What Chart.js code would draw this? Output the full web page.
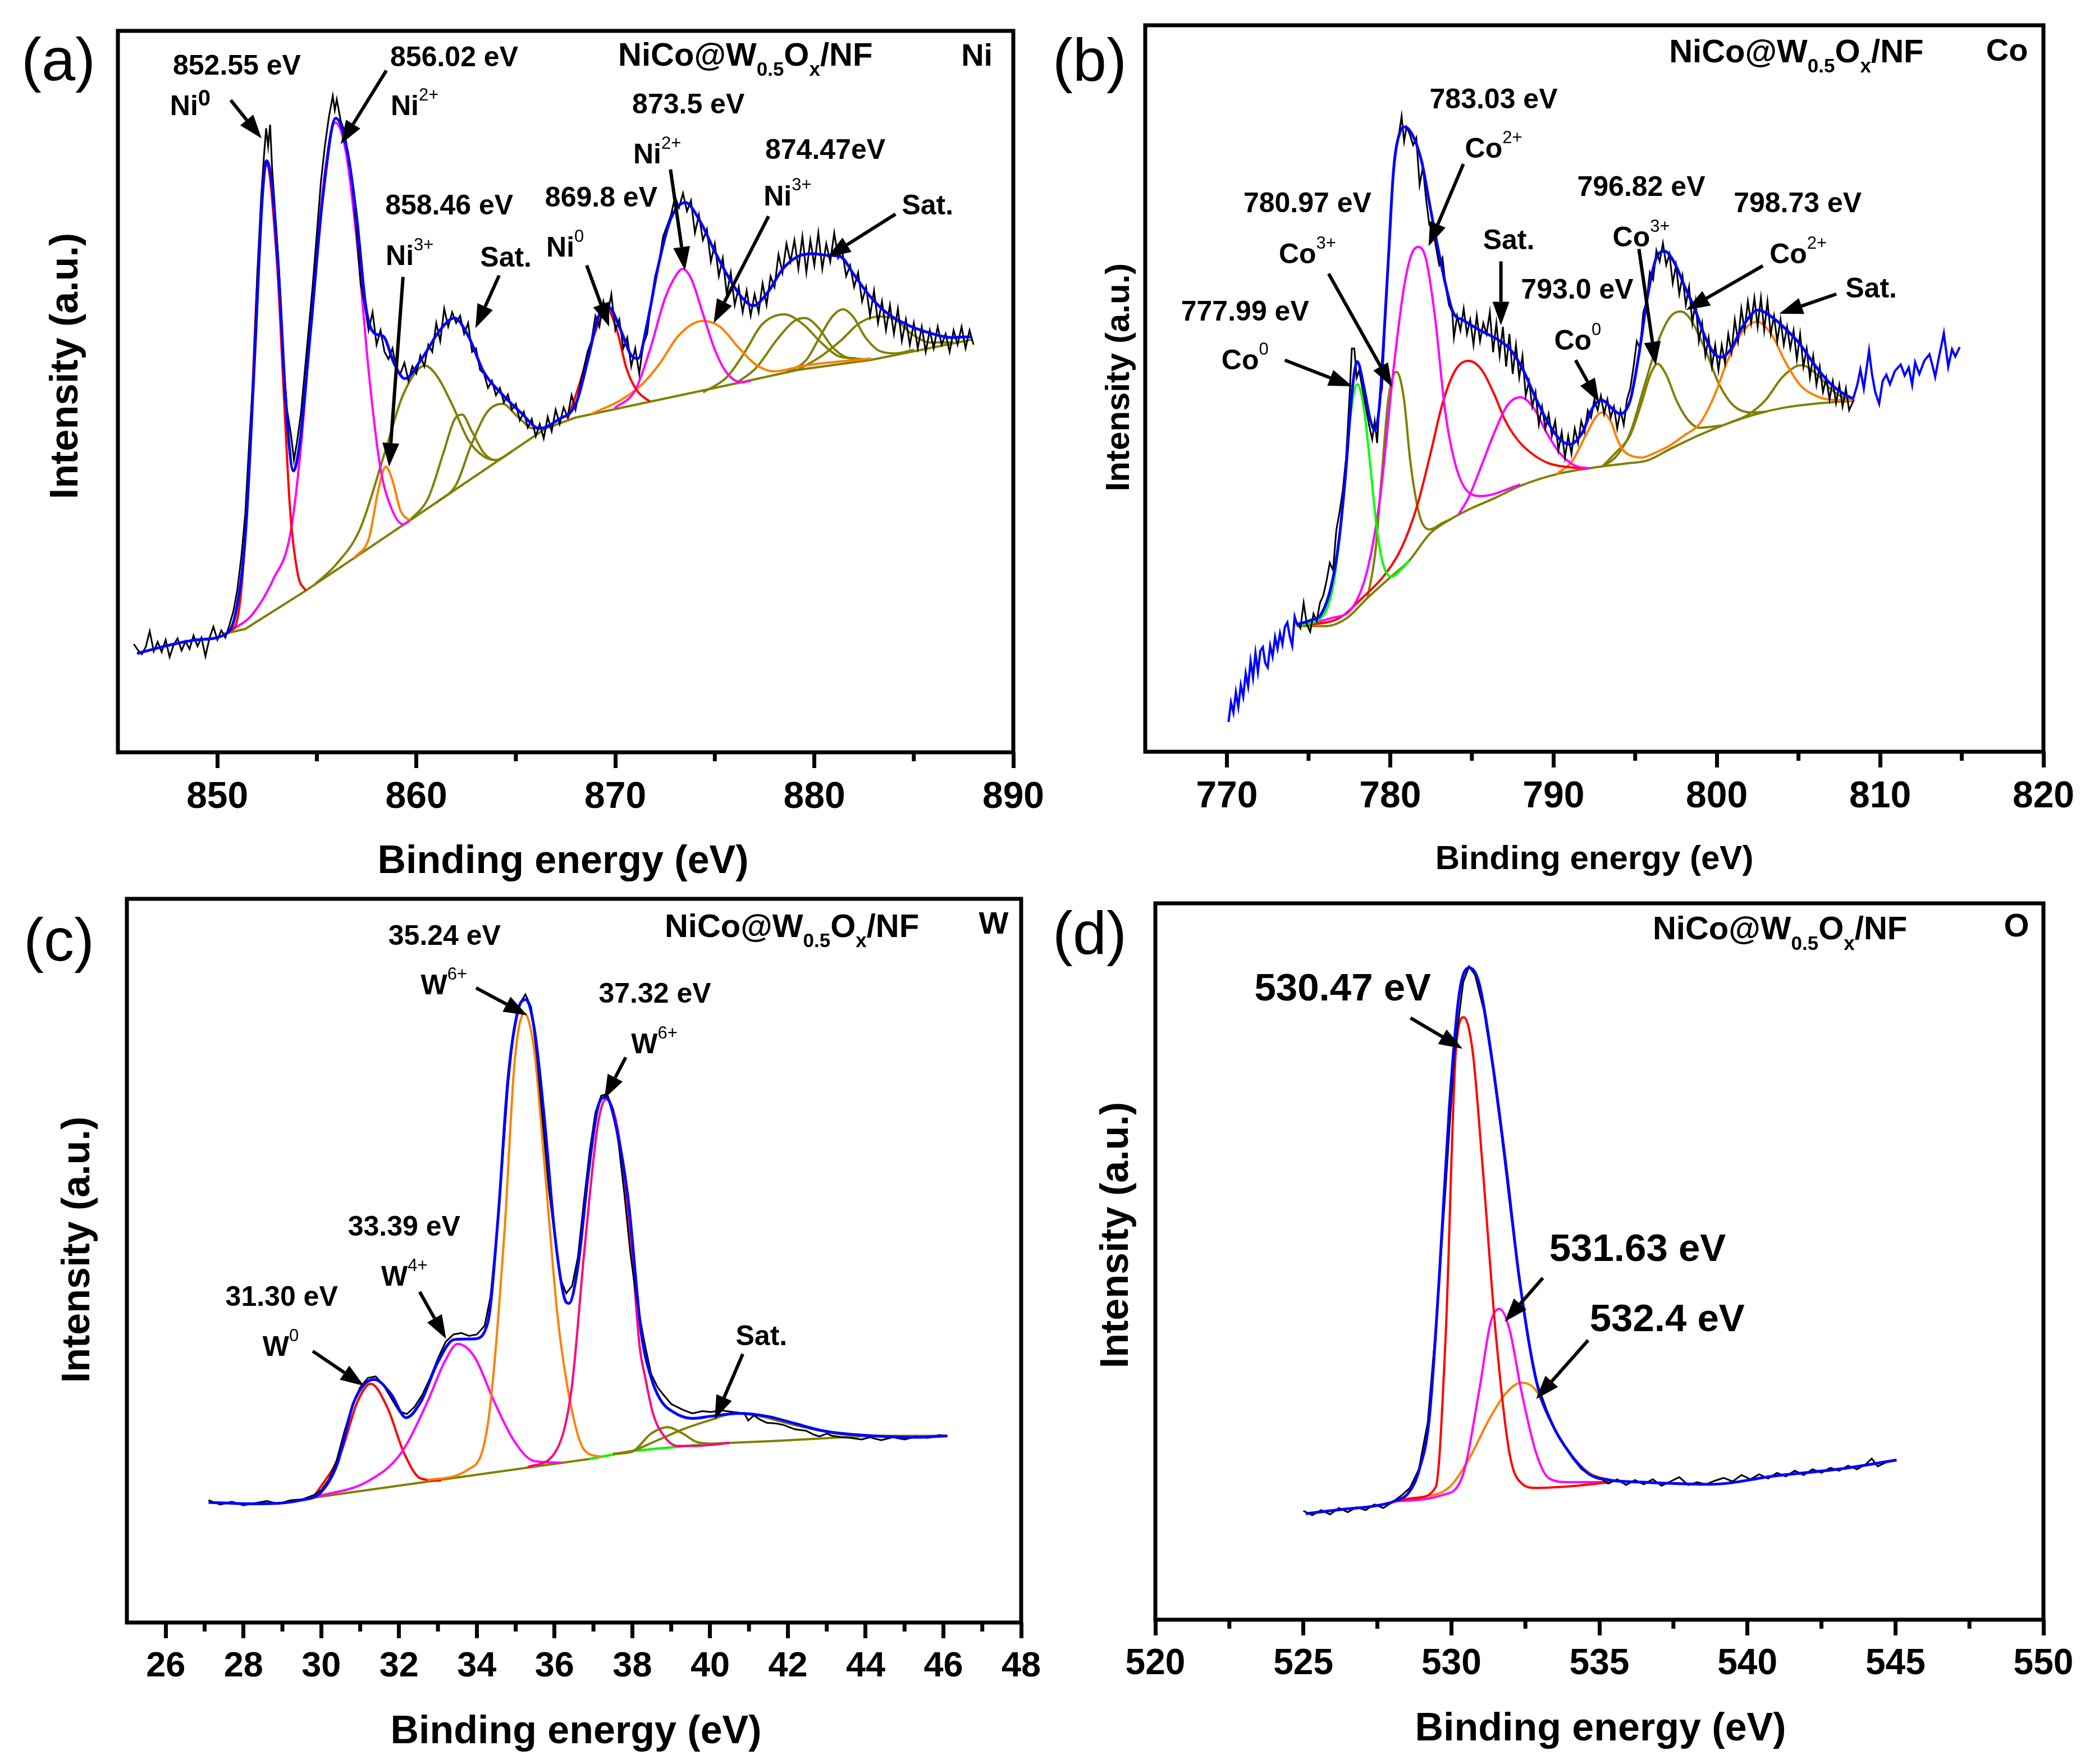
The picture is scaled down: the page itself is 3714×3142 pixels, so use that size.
<!DOCTYPE html>
<html>
<head>
<meta charset="utf-8">
<script src="https://cdn.jsdelivr.net/npm/chart.js@4.4.1/dist/chart.umd.min.js"></script>
<style>
  html, body { margin: 0; padding: 0; background: #fff; overflow: hidden; }
  #page { position: relative; width: 3714px; height: 3142px; background: #fff; }
  canvas { position: absolute; }
</style>
</head>
<body>
<div id="page">
  <canvas id="chartNi" width="1900" height="1571" style="left:0;top:0"></canvas>
  <canvas id="chartCo" width="1857" height="1571" style="left:1857px;top:0"></canvas>
  <canvas id="chartW" width="1857" height="1571" style="left:0;top:1571px"></canvas>
  <canvas id="chartO" width="1857" height="1571" style="left:1857px;top:1571px"></canvas>
</div>
<script>
// ─── Colours / fonts ─────────────────────────────────────────────────────────
const FONT = "'Liberation Sans', Arial, Helvetica, sans-serif";
const BLACK = '#000000', BLUE = '#0000ff', RED = '#ff0000', MAGENTA = '#ff00ff';
const ORANGE = '#ff8000', OLIVE = '#808000', GREEN = '#00ff00', PINK = '#ff0080';
const AXIS_H = 150;

// ─── (a) Ni 2p ───────────────────────────────────────────────────────────────
const niTicks = [850, 860, 870, 880, 890];
const niMinor = [855, 865, 875, 885];
const niRaw = [[845.8,15.0],[846.0,14.2],[846.2,13.6],[846.4,14.6],[846.6,16.8],[846.8,14.0],[847.0,15.3],[847.2,13.9],[847.4,15.6],[847.6,13.2],[847.8,14.9],[848.0,15.8],[848.2,14.1],[848.4,15.4],[848.6,14.3],[848.8,16.2],[849.0,14.7],[849.2,15.9],[849.4,13.3],[849.6,15.8],[849.8,17.4],[850.0,15.6],[850.2,16.9],[850.4,15.9],[850.6,17.6],[850.8,19.5],[851.0,22.5],[851.2,27],[851.4,33],[851.6,43],[851.8,52],[852.0,66],[852.2,77],[852.35,83],[852.45,86.5],[852.55,84],[852.65,87],[852.75,81],[852.9,75],[853.1,67],[853.3,55],[853.5,47.5],[853.7,44],[853.85,40.5],[854.0,43],[854.2,47],[854.4,53],[854.6,59],[854.8,65],[855.0,72],[855.2,79],[855.4,84],[855.6,88],[855.8,91],[855.9,89],[856.0,90.5],[856.2,87.5],[856.4,86],[856.6,82],[856.8,78],[857.0,72],[857.2,65],[857.4,62],[857.6,58.5],[857.8,61],[858.0,56.5],[858.2,58.5],[858.4,55.5],[858.6,54.5],[858.8,56],[859.0,53],[859.2,52.5],[859.4,54],[859.6,51.5],[859.8,53.5],[860.0,52.5],[860.2,55],[860.4,53.5],[860.6,56.5],[860.8,55.5],[861.0,59.5],[861.2,57],[861.4,61.5],[861.6,59],[861.8,61],[862.0,59.5],[862.2,60.5],[862.4,58],[862.6,59.5],[862.8,55.5],[863.0,56],[863.2,53],[863.4,52.5],[863.6,50.5],[863.8,51.5],[864.0,49.5],[864.2,50.5],[864.4,48.5],[864.6,49.6],[864.8,47.5],[865.0,48.3],[865.2,46.0],[865.4,47.2],[865.6,45.0],[865.8,46.2],[866.0,43.8],[866.2,45.5],[866.4,43.5],[866.6,46.5],[866.8,44.5],[867.0,47.5],[867.2,45.5],[867.4,47.8],[867.6,46.5],[867.8,49.5],[868.0,47.5],[868.2,50.5],[868.4,53],[868.6,55.5],[868.8,57],[869.0,60.5],[869.2,59],[869.4,62.5],[869.6,60.5],[869.8,63.5],[870.0,58.5],[870.2,60],[870.4,56],[870.6,57.5],[870.8,53.5],[871.0,56],[871.2,52.5],[871.4,56.5],[871.6,58],[871.8,62.5],[872.0,66],[872.2,68],[872.4,71.5],[872.6,73],[872.8,74.5],[873.0,77],[873.2,75.5],[873.4,77.5],[873.6,75],[873.8,76.5],[874.0,72],[874.2,74.5],[874.4,71],[874.6,72.5],[874.8,68],[875.0,70.5],[875.2,66],[875.4,68.5],[875.6,63.5],[875.8,66.5],[876.0,62],[876.2,64.5],[876.4,61],[876.6,64],[876.8,60.5],[877.0,63.5],[877.2,61],[877.4,65],[877.6,62],[877.8,66],[878.0,64.5],[878.2,69],[878.4,66.5],[878.6,70.5],[878.8,68],[879.0,71],[879.2,67],[879.4,71.5],[879.6,66.5],[879.8,71],[880.0,67.5],[880.2,72],[880.4,67],[880.6,70.5],[880.8,68],[881.0,72],[881.2,68.5],[881.4,69.5],[881.6,66],[881.8,67.5],[882.0,64.5],[882.2,66.5],[882.4,62.5],[882.6,64.5],[882.8,60.5],[883.0,64],[883.2,59.5],[883.4,62.5],[883.6,58.5],[883.8,62],[884.0,58],[884.2,61.5],[884.4,57],[884.6,60],[884.8,56.5],[885.0,59.5],[885.2,56],[885.4,59],[885.6,55.5],[885.8,58.5],[886.0,56],[886.2,59],[886.4,56.5],[886.6,58],[886.8,55.5],[887.0,58.5],[887.2,56.5],[887.4,59],[887.6,56],[887.8,58.5],[888.0,56.5]];
const niEnvelope = [[845.96,13.7],[847.5,14.8],[849.0,15.6],[850.48,16.5],[850.94,19.6],[851.41,30.2],[851.88,55.2],[852.26,77.0],[852.47,82.0],[852.73,78.9],[853.12,64.5],[853.43,49.0],[853.82,39.0],[854.13,42.7],[854.68,58.3],[855.3,77.0],[855.95,87.9],[856.54,83.2],[857.01,73.9],[857.48,61.4],[857.94,58.0],[858.33,57.7],[858.88,53.9],[859.42,51.8],[860.28,54.6],[861.21,58.6],[861.91,60.2],[862.61,57.7],[863.39,52.7],[864.32,49.6],[865.25,47.1],[866.19,44.9],[867.12,46.1],[868.03,48.4],[868.62,54.4],[869.14,60.3],[869.66,61.7],[870.26,58.6],[870.78,55.1],[871.15,54.6],[871.59,59.3],[872.18,67.7],[872.78,73.9],[873.52,76.2],[874.26,73.6],[875.0,69.4],[875.74,65.6],[876.34,63.1],[876.93,61.9],[877.67,63.8],[878.41,67.0],[879.15,68.7],[879.9,69.1],[880.64,68.9],[881.31,68.7],[881.97,66.3],[882.71,63.5],[883.6,61.0],[884.64,59.3],[885.83,58.1],[886.87,57.5],[887.91,57.6]];
const niBackground = [[850.3,16.4],[851.4,17.1],[854.44,22.4],[859.65,32.1],[866.5,44.9],[868.0,46.4],[871.74,48.6],[876.19,51.2],[879.15,53.0],[882.86,54.4],[887.91,57.2]];
const niRed1 = [[850.6,16.8],[850.94,17.8],[851.25,24.0],[851.64,42.7],[852.03,66.4],[852.47,81.4],[853.0,67.7],[853.35,49.0],[853.66,33.4],[854.05,24.6],[854.44,22.4]];
const niMag1 = [[850.63,16.8],[851.72,19.0],[852.81,24.0],[853.66,30.2],[854.21,42.7],[854.83,64.5],[855.45,81.4],[855.92,87.3],[856.46,83.2],[857.01,70.8],[857.63,52.1],[858.18,39.6],[858.72,34.0],[859.34,31.6],[859.65,32.1]];
const niOrange1 = [[856.85,26.9],[857.63,29.8],[858.1,36.5],[858.46,39.6],[858.8,37.7],[859.19,33.6],[859.65,32.1]];
const niSat1 = [[854.9,23.3],[855.92,25.9],[857.16,30.9],[858.41,41.5],[859.34,49.6],[860.43,53.6],[861.05,52.1],[861.83,48.0],[862.61,43.3],[863.39,41.0],[864.0,40.5],[864.8,41.7]];
const niSat2 = [[859.65,32.1],[860.59,35.2],[861.36,41.5],[861.91,46.1],[862.3,46.8],[862.77,44.6],[863.39,41.5],[864.0,40.5],[864.8,41.7]];
const niSat3 = [[861.0,34.6],[862.0,37.1],[862.77,42.7],[863.54,47.1],[864.32,48.3],[865.1,46.5],[865.88,44.9],[866.5,44.9]];
const niRed2 = [[867.6,46.2],[868.18,50.9],[868.77,56.5],[869.29,60.3],[869.59,61.4],[870.11,58.2],[870.55,53.3],[871.07,50.2],[871.74,48.6]];
const niMag2 = [[869.96,47.7],[871.0,50.2],[871.74,55.8],[872.48,62.8],[873.0,65.9],[873.37,67.0],[873.82,65.6],[874.41,60.7],[875.0,55.8],[875.6,52.6],[876.34,51.3],[876.8,51.5]];
const niOrange2 = [[868.77,46.9],[870.26,48.8],[871.3,50.9],[872.18,53.7],[873.22,57.9],[874.41,59.8],[875.3,58.9],[876.19,56.1],[877.08,53.7],[877.97,52.8],[879.5,53.6],[882.86,54.6]];
const niSatA = [[874.41,49.9],[875.6,52.0],[876.49,55.4],[877.37,59.3],[878.49,60.7],[879.45,59.3],[880.34,56.8],[881.23,54.9],[882.12,54.6]];
const niSatB = [[876.04,51.1],[877.08,53.3],[878.12,57.2],[879.0,59.8],[879.53,60.2],[880.19,58.9],[880.93,56.1],[881.68,54.7],[882.5,54.5]];
const niSatC = [[878.56,52.6],[879.6,54.4],[880.34,57.9],[880.93,60.5],[881.45,61.4],[881.97,60.3],[882.57,57.5],[883.3,55.6],[884.05,55.3],[885.0,55.8]];
const niSatD = [[879.15,53.0],[880.34,54.9],[881.38,57.2],[882.27,59.5],[883.3,60.4],[884.05,60.0],[884.94,57.9],[885.83,56.8],[887.0,56.8]];

// ─── (b) Co 2p ───────────────────────────────────────────────────────────────
const coTicks = [770, 780, 790, 800, 810, 820];
const coMinor = [775, 785, 795, 805, 815];
const coTailLeft = [[770.1,4.1],[770.25,6.8],[770.4,5.4],[770.55,8.2],[770.7,6.2],[770.85,9.2],[771.0,7.6],[771.15,10.8],[771.3,9.0],[771.45,12.5],[771.6,10.2],[771.75,13.6],[771.9,11.0],[772.05,13.9],[772.2,14.4],[772.35,12.2],[772.5,11.6],[772.65,14.6],[772.8,13.1],[772.95,15.8],[773.1,14.2],[773.25,16.3],[773.4,14.8],[773.55,17.2],[773.7,17.8],[773.85,15.9],[774.0,14.6],[774.15,18.6],[774.3,17.5]];
const coTailRight = [[808.35,48.6],[808.6,50.5],[808.79,52.6],[809.0,50.0],[809.32,55.2],[809.5,52.0],[809.7,49.5],[809.94,47.9],[810.15,51.0],[810.38,51.9],[810.6,50.6],[810.9,52.4],[811.26,53.3],[811.5,51.8],[811.75,52.9],[811.96,50.5],[812.14,53.6],[812.4,52.0],[812.7,53.8],[813.02,54.7],[813.2,53.2],[813.37,51.6],[813.6,54.3],[813.9,57.6],[814.17,53.0],[814.4,55.4],[814.6,54.4],[814.87,55.7]];
const coRaw = [[774.3,17.8],[774.5,17.0],[774.7,20.5],[774.9,17.5],[775.1,16.5],[775.3,19.0],[775.5,18.0],[775.7,20.5],[775.9,21.5],[776.1,23.5],[776.3,26.0],[776.5,25.0],[776.7,30.5],[776.9,33.0],[777.1,36.0],[777.3,40.5],[777.5,48.5],[777.65,55.5],[777.8,55.5],[777.95,51.5],[778.1,52.5],[778.3,50.0],[778.5,47.5],[778.7,45.0],[778.9,43.0],[779.05,45.5],[779.2,42.5],[779.35,48.5],[779.5,50.0],[779.7,60.0],[779.9,68.5],[780.1,77.0],[780.3,82.0],[780.5,84.5],[780.7,87.5],[780.85,84.0],[781.0,86.0],[781.2,85.0],[781.4,83.5],[781.6,84.5],[781.8,78.0],[782.0,80.5],[782.2,76.0],[782.4,72.5],[782.6,72.0],[782.8,69.5],[783.0,67.0],[783.2,68.0],[783.4,64.0],[783.6,61.5],[783.8,60.5],[783.9,57.0],[784.1,60.0],[784.3,58.0],[784.5,61.0],[784.7,57.5],[784.9,59.5],[785.1,56.0],[785.3,60.0],[785.5,56.5],[785.7,59.0],[785.9,57.5],[786.1,60.5],[786.3,55.0],[786.5,59.0],[786.7,54.5],[786.9,58.5],[787.1,53.0],[787.3,57.5],[787.5,52.0],[787.7,56.0],[787.9,51.5],[788.1,54.5],[788.3,49.0],[788.5,51.0],[788.7,47.5],[788.9,49.5],[789.1,45.0],[789.3,47.5],[789.5,44.5],[789.7,46.5],[789.9,43.5],[790.1,45.5],[790.3,41.5],[790.5,44.0],[790.7,40.5],[790.9,43.5],[791.1,41.0],[791.3,44.5],[791.5,42.5],[791.7,45.5],[791.9,44.0],[792.1,47.0],[792.3,46.0],[792.5,48.5],[792.7,47.0],[792.9,49.0],[793.1,46.5],[793.3,48.5],[793.5,46.0],[793.7,47.5],[793.9,44.5],[794.1,47.0],[794.3,45.0],[794.5,48.5],[794.7,50.0],[794.9,53.0],[795.1,56.5],[795.3,55.5],[795.5,60.5],[795.7,62.0],[795.9,66.0],[796.1,65.0],[796.3,69.0],[796.5,67.5],[796.7,70.0],[796.9,67.0],[797.1,68.5],[797.3,64.5],[797.5,67.0],[797.7,63.0],[797.9,65.5],[798.1,61.5],[798.3,64.0],[798.5,59.0],[798.7,62.0],[798.9,56.5],[799.1,59.0],[799.3,54.5],[799.5,57.0],[799.7,53.0],[799.9,56.0],[800.1,52.5],[800.3,56.0],[800.5,53.5],[800.7,57.5],[800.9,55.0],[801.1,59.5],[801.3,56.5],[801.5,61.0],[801.7,58.0],[801.9,62.0],[802.1,59.0],[802.3,62.5],[802.5,58.5],[802.7,62.5],[802.9,58.0],[803.1,62.0],[803.3,57.5],[803.5,60.0],[803.7,56.5],[803.9,59.5],[804.1,56.0],[804.3,58.5],[804.5,55.5],[804.7,58.0],[804.9,54.0],[805.1,57.5],[805.3,53.0],[805.5,55.5],[805.7,51.5],[805.9,54.5],[806.1,50.5],[806.3,53.0],[806.5,49.5],[806.7,51.5],[806.9,48.5],[807.1,51.0],[807.3,48.0],[807.5,50.5],[807.7,47.5],[807.9,50.0],[808.1,47.0],[808.4,48.5]];
const coEnvelope = [[774.26,17.5],[775.13,18.1],[775.76,18.9],[776.4,22.9],[776.87,29.2],[777.27,38.3],[777.67,49.7],[777.98,53.7],[778.38,50.3],[778.78,45.7],[779.06,44.3],[779.33,47.4],[779.57,55.4],[779.89,67.9],[780.2,79.9],[780.6,85.3],[780.92,86.0],[781.47,84.4],[781.95,81.0],[782.42,75.3],[782.9,69.6],[783.37,64.5],[783.85,60.5],[784.48,59.4],[785.59,57.9],[786.54,56.8],[787.34,55.4],[788.13,52.6],[788.92,48.6],[789.72,45.1],[790.35,43.1],[790.98,42.3],[791.78,44.0],[792.41,47.4],[792.97,48.4],[793.52,47.4],[794.08,46.5],[794.7,48.4],[795.23,54.7],[795.76,62.7],[796.28,67.9],[796.81,68.9],[797.43,67.2],[798.04,64.0],[798.66,60.9],[799.28,57.1],[799.81,54.9],[800.25,54.3],[800.86,55.4],[801.57,58.5],[802.54,60.8],[803.33,59.9],[804.21,58.2],[805.09,56.1],[805.97,53.3],[806.85,50.9],[807.73,49.3],[808.35,48.6]];
const coBackground = [[774.26,17.3],[776.08,17.3],[777.35,18.4],[778.62,21.2],[780.05,24.1],[781.16,26.3],[782.42,30.0],[783.69,32.0],[784.96,33.5],[786.39,34.9],[787.97,36.6],[790.35,38.3],[792.73,39.2],[794.52,39.7],[795.76,40.1],[797.16,41.7],[798.93,43.6],[800.69,45.2],[802.45,46.5],[804.21,47.4],[805.97,47.9],[808.35,48.3]];
const coGreen = [[774.26,17.4],[775.76,18.4],[776.56,23.5],[777.03,32.6],[777.51,45.1],[777.98,50.6],[778.38,47.4],[778.78,39.4],[779.17,30.9],[779.57,25.8],[780.05,24.1],[780.84,25.5],[781.16,26.3]];
const coOlive1 = [[778.62,21.2],[779.09,27.5],[779.49,38.3],[779.89,48.6],[780.39,52.3],[780.84,48.6],[781.23,40.0],[781.79,32.6],[782.42,30.6],[783.21,31.5],[783.69,32.0]];
const coMag1 = [[774.5,17.4],[776.4,18.4],[777.67,19.8],[778.62,25.2],[779.41,35.5],[780.2,52.6],[780.84,63.9],[781.31,68.5],[781.71,69.5],[782.18,67.9],[782.74,59.9],[783.37,46.8],[784.01,39.4],[784.8,35.7],[785.59,35.2],[787.97,36.8]];
const coRed = [[774.5,17.4],[776.87,18.4],[778.3,21.2],[779.57,24.1],[780.68,28.0],[781.63,33.7],[782.42,40.6],[783.21,48.0],[784.01,52.6],[784.8,53.8],[785.59,52.6],[786.39,49.1],[787.02,45.7],[787.81,42.9],[788.76,40.9],[789.72,39.7],[790.83,39.2],[792.0,39.0]];
const coMag2 = [[784.2,32.7],[784.8,35.0],[785.59,39.4],[786.39,44.0],[787.18,47.7],[787.97,48.8],[788.76,47.4],[789.56,44.0],[790.35,41.2],[791.3,39.4],[792.25,39.0]];
const coOrange1 = [[790.19,38.2],[791.14,40.0],[791.94,43.4],[792.57,46.0],[792.97,46.7],[793.52,45.4],[793.82,43.5],[794.16,41.8],[794.52,41.0],[795.4,40.5],[796.28,41.2]];
const coOrange2 = [[796.28,41.2],[797.16,42.2],[798.04,43.6],[798.93,45.1],[799.81,48.8],[800.69,54.0],[801.57,57.8],[802.45,59.2],[803.33,57.5],[804.21,53.6],[805.09,50.5],[805.97,49.1],[806.85,48.5],[808.35,48.4]];
const coOlive2 = [[793.0,39.3],[793.82,41.2],[794.7,43.6],[795.4,48.1],[795.93,51.9],[796.37,53.4],[796.9,51.9],[797.52,48.4],[798.22,45.7],[798.93,44.6],[800.3,44.9]];
const coOlive3 = [[793.0,39.3],[793.82,40.6],[794.7,43.9],[795.58,50.5],[796.46,56.8],[797.16,59.9],[797.78,60.6],[798.4,59.5],[799.28,55.4],[800.16,50.5],[801.04,47.6],[802.1,46.7],[803.0,46.8]];
const coOlive4 = [[800.69,45.2],[801.92,46.4],[802.98,48.4],[804.03,51.6],[805.18,53.2],[806.15,51.9],[807.03,49.8],[807.91,48.6],[808.35,48.4]];

// ─── (c) W 4f ────────────────────────────────────────────────────────────────
const wTicks = [26, 28, 30, 32, 34, 36, 38, 40, 42, 44, 46, 48];
const wMinor = [27, 29, 31, 33, 35, 37, 39, 41, 43, 45, 47];
const wRaw = [[27.1,16.9],[27.4,16.3],[27.7,16.7],[28.0,16.2],[28.3,16.5],[28.6,16.8],[28.9,16.4],[29.2,16.9],[29.5,17.0],[29.8,17.6],[30.0,18.3],[30.2,19.8],[30.4,22.5],[30.6,26.5],[30.8,30.0],[31.0,32.5],[31.2,33.8],[31.4,34.0],[31.6,32.8],[31.8,31.0],[32.0,29.2],[32.2,28.8],[32.4,29.8],[32.6,31.5],[32.8,33.8],[33.0,36.5],[33.2,38.8],[33.4,39.8],[33.6,40.0],[33.8,39.6],[34.0,39.8],[34.2,41.0],[34.35,45],[34.5,53],[34.65,63],[34.8,74],[34.95,82],[35.1,85.5],[35.25,86.8],[35.4,85.0],[35.55,78],[35.7,69],[35.85,60],[36.0,53.5],[36.15,47.5],[36.3,45.5],[36.45,46.5],[36.6,50.5],[36.75,58],[36.9,65],[37.05,70.5],[37.2,72.8],[37.35,73.0],[37.5,71.0],[37.65,66],[37.8,59],[37.95,51],[38.1,45.0],[38.3,39.0],[38.48,34.4],[38.65,32.5],[38.81,31.4],[39.0,30.2],[39.3,29.4],[39.54,28.9],[39.8,29.2],[40.02,29.1],[40.3,29.3],[40.59,29.1],[40.88,28.9],[40.98,27.9],[41.12,28.6],[41.3,28.0],[41.46,27.6],[41.7,27.5],[41.89,27.3],[42.18,26.7],[42.47,26.5],[42.65,26.0],[42.81,25.7],[43.0,26.1],[43.14,25.8],[43.4,25.6],[43.62,25.5],[43.9,25.3],[44.1,25.6],[44.4,25.2],[44.7,25.6],[45.0,25.3],[45.3,25.7],[45.6,25.5],[45.9,25.9],[46.1,25.7]];
const wEnvelope = [[27.1,16.6],[28.27,16.4],[29.47,16.9],[29.99,18.0],[30.41,21.9],[30.84,30.5],[31.36,33.6],[31.79,31.6],[32.18,28.3],[32.56,30.5],[32.99,35.9],[33.42,39.1],[33.94,39.2],[34.28,41.4],[34.54,55.5],[34.8,75.0],[35.05,84.4],[35.26,86.1],[35.48,82.0],[35.74,69.5],[36.0,53.9],[36.25,44.9],[36.37,44.1],[36.6,49.2],[36.86,61.7],[37.11,71.1],[37.32,72.6],[37.54,69.5],[37.89,58.6],[38.23,40.0],[38.48,33.9],[38.72,30.8],[39.05,29.1],[39.54,28.2],[40.02,28.5],[40.74,28.9],[41.46,28.5],[42.18,27.5],[42.9,26.5],[43.62,26.0],[44.5,25.7],[45.3,25.6],[46.1,25.8]];
const wBackground = [[29.6,17.1],[36.89,22.6],[37.99,23.7],[40.02,24.7],[41.7,25.1],[44.1,25.8],[46.1,25.8]];
const wGreen = [[36.89,22.6],[37.99,23.7],[40.02,24.7]];
const wRed = [[29.8,17.3],[30.5,23.4],[30.93,30.5],[31.27,33.0],[31.7,29.7],[32.13,23.4],[32.56,19.9],[33.08,19.6]];
const wMag = [[29.8,17.3],[31.19,19.5],[32.05,23.4],[32.73,30.5],[33.16,35.9],[33.51,38.5],[33.94,36.7],[34.45,30.5],[34.97,25.0],[35.48,22.3],[36.17,22.1]];
const wOrange = [[32.73,19.7],[33.76,21.1],[34.28,27.3],[34.71,53.9],[34.97,77.3],[35.22,84.2],[35.48,78.9],[35.74,63.3],[36.08,42.2],[36.43,29.7],[36.77,23.8],[37.2,22.9]];
const wPink = [[35.31,21.5],[36.0,23.4],[36.43,32.0],[36.77,51.6],[37.11,68.7],[37.32,72.3],[37.63,68.0],[37.97,52.3],[38.19,38.0],[38.33,33.9],[38.53,28.9],[38.81,25.8],[39.15,24.4],[39.54,24.4],[40.5,24.8]];
const wOliveSmall = [[37.5,23.3],[37.99,23.6],[38.48,26.1],[38.91,27.0],[39.3,26.1],[39.63,25.0],[40.02,24.7]];
const wOliveBroad = [[37.5,23.3],[37.99,23.7],[38.57,25.0],[39.3,26.7],[40.02,28.0],[40.64,28.9],[41.22,28.6],[41.94,27.6],[42.66,26.7],[43.38,26.0],[44.1,25.8]];

// ─── (d) O 1s ────────────────────────────────────────────────────────────────
const oTicks = [520, 525, 530, 535, 540, 545, 550];
const oMinor = [522.5, 527.5, 532.5, 537.5, 542.5, 547.5];
const oRaw = [[525.0,15.2],[525.3,14.6],[525.6,15.3],[525.9,14.7],[526.2,15.6],[526.5,15.0],[526.8,15.7],[527.1,15.3],[527.4,16.1],[527.7,15.6],[528.0,16.4],[528.3,17.3],[528.6,18.4],[528.9,21.0],[529.2,27.5],[529.5,42],[529.8,60],[530.1,79],[530.4,89],[530.6,91.2],[530.8,90],[531.1,85],[531.4,77],[531.7,67.5],[532.0,57],[532.3,47.5],[532.6,39],[532.9,33],[533.2,29.5],[533.5,26.5],[533.8,24.5],[534.1,22.5],[534.4,21],[534.7,20.2],[535.0,19.8],[535.3,19.0],[535.6,19.6],[535.9,18.8],[536.2,19.5],[536.5,18.9],[536.8,19.6],[537.1,18.7],[537.4,19.3],[537.7,19.9],[538.0,18.8],[538.3,19.2],[538.6,18.9],[538.9,19.4],[539.2,19.8],[539.5,19.3],[539.8,20.2],[540.1,19.6],[540.4,20.3],[540.7,19.7],[541.0,20.5],[541.3,20.0],[541.6,20.8],[541.9,20.2],[542.2,21.0],[542.5,20.5],[542.8,21.2],[543.1,20.8],[543.4,21.5],[543.7,21.0],[544.0,21.7],[544.2,22.5],[544.4,21.4],[544.7,22.0],[545.0,22.2]];
const oEnvelope = [[525.08,14.8],[526.32,15.4],[527.44,15.9],[528.12,16.6],[528.57,17.8],[528.91,20.9],[529.25,28.0],[529.59,47.8],[529.93,71.4],[530.26,87.2],[530.6,91.0],[530.94,88.8],[531.39,77.7],[531.84,63.5],[532.29,47.8],[532.86,33.5],[533.42,27.2],[533.99,23.3],[534.66,20.3],[535.34,19.5],[536.47,19.2],[538.72,18.9],[540.98,20.1],[543.24,21.1],[545.04,22.3]];
const oRed = [[528.0,16.5],[528.8,17.0],[529.47,18.5],[529.81,39.9],[530.15,79.3],[530.42,84.1],[530.72,79.3],[531.05,63.5],[531.5,39.9],[531.96,23.3],[532.41,18.9],[532.86,18.4],[534.21,18.7],[535.34,19.2]];
const oMag = [[528.0,16.5],[529.7,17.4],[530.38,20.1],[530.94,32.0],[531.32,41.4],[531.62,43.4],[531.96,40.6],[532.36,32.0],[532.86,23.3],[533.31,19.7],[533.99,19.2],[535.34,19.2]];
const oOrange = [[528.0,16.5],[528.8,17.0],[529.93,18.5],[530.6,22.5],[531.28,28.0],[531.84,31.6],[532.36,33.1],[532.86,32.0],[533.31,28.0],[533.99,23.3],[534.66,20.5],[535.34,19.5]];

// ─── Helpers ─────────────────────────────────────────────────────────────────
function line(points, color, width, smooth) {
  return {
    data: points.map(([x, y]) => ({ x, y })),
    borderColor: color,
    borderWidth: width,
    pointRadius: 0,
    fill: false,
    tension: 0,
    cubicInterpolationMode: smooth ? 'monotone' : 'default'
  };
}

// draws text made of base / superscript / subscript runs
function drawRich(ctx, parts, x, y, size, align) {
  const runs = parts.map(([t, k]) => {
    let font = `bold ${size}px ${FONT}`, dy = 0;
    if (k === 'sup')  { font = `${Math.round(size * 0.62)}px ${FONT}`; dy = -size * 0.42; }
    if (k === 'supB') { font = `bold ${Math.round(size * 0.8)}px ${FONT}`; dy = -size * 0.28; }
    if (k === 'sub')  { font = `bold ${Math.round(size * 0.6)}px ${FONT}`; dy = size * 0.42; }
    ctx.font = font;
    return { t, font, dy, w: ctx.measureText(t).width };
  });
  const total = runs.reduce((s, r) => s + r.w, 0);
  let cx = align === 'center' ? x - total / 2 : x;
  ctx.textAlign = 'left';
  ctx.textBaseline = 'middle';
  runs.forEach(r => { ctx.font = r.font; ctx.fillText(r.t, cx, y + r.dy); cx += r.w; });
}

function drawArrow(ctx, x1, y1, x2, y2) {
  const a = Math.atan2(y2 - y1, x2 - x1), head = 42, half = 15;
  const bx = x2 - head * Math.cos(a), by = y2 - head * Math.sin(a);
  ctx.lineWidth = 6;
  ctx.beginPath(); ctx.moveTo(x1, y1); ctx.lineTo(bx, by); ctx.stroke();
  ctx.beginPath();
  ctx.moveTo(x2, y2);
  ctx.lineTo(bx + half * Math.sin(a), by - half * Math.cos(a));
  ctx.lineTo(bx - half * Math.sin(a), by + half * Math.cos(a));
  ctx.closePath(); ctx.fill();
}

// frame, minor ticks, titles, panel letter and annotations
function makeDecor(cfg) {
  return {
    id: 'decor',
    afterDraw(chart) {
      const ctx = chart.ctx;
      const { left, top, right, bottom } = chart.chartArea;
      const xs = chart.scales.x, ys = chart.scales.y;
      const [ox, oy] = cfg.origin;
      ctx.save();
      ctx.strokeStyle = BLACK; ctx.fillStyle = BLACK;
      ctx.lineWidth = 7;
      ctx.strokeRect(left, top, right - left, bottom - top);
      cfg.minor.forEach(v => {
        const px = xs.getPixelForValue(v);
        ctx.beginPath(); ctx.moveTo(px, bottom); ctx.lineTo(px, bottom + 16); ctx.stroke();
      });
      ctx.textAlign = 'center'; ctx.textBaseline = 'middle';
      ctx.font = `bold ${cfg.titleSize}px ${FONT}`;
      ctx.fillText('Binding energy (eV)', cfg.xTitle[0] - ox, cfg.xTitle[1] - oy);
      ctx.save();
      ctx.translate(cfg.yTitle[0] - ox, cfg.yTitle[1] - oy);
      ctx.rotate(-Math.PI / 2);
      ctx.fillText('Intensity (a.u.)', 0, 0);
      ctx.restore();
      ctx.textAlign = 'left';
      ctx.font = `108px ${FONT}`;
      ctx.fillText(cfg.letter, cfg.letterPos[0] - ox, cfg.letterPos[1] - oy);
      cfg.labels.forEach(l => drawRich(ctx, l.parts, xs.getPixelForValue(l.x), ys.getPixelForValue(l.y),
        l.size || cfg.labelSize, l.align || 'center'));
      cfg.arrows.forEach(([x1, y1, x2, y2]) => drawArrow(ctx,
        xs.getPixelForValue(x1), ys.getPixelForValue(y1), xs.getPixelForValue(x2), ys.getPixelForValue(y2)));
      ctx.restore();
    }
  };
}

function makeChart(id, cfg) {
  return new Chart(document.getElementById(id), {
    type: 'line',
    data: { datasets: cfg.series.slice().reverse() },   // first in list = drawn first (bottom)
    options: {
      responsive: false,
      animation: false,
      devicePixelRatio: 1,
      events: [],
      layout: { padding: cfg.pad },
      plugins: { legend: { display: false }, tooltip: { enabled: false } },
      scales: {
        x: {
          type: 'linear',
          min: cfg.range[0], max: cfg.range[1],
          afterBuildTicks(scale) { scale.ticks = cfg.ticks.map(v => ({ value: v })); },
          afterFit(scale) { scale.height = AXIS_H; scale.paddingLeft = 0; scale.paddingRight = 0; },
          ticks: {
            autoSkip: false, maxRotation: 0, minRotation: 0, padding: 13, color: BLACK,
            font: { family: FONT, size: cfg.tickSize, weight: 'bold' },
            callback: v => String(v)
          },
          grid: { display: true, drawOnChartArea: false, drawTicks: true, tickLength: 28,
                  tickWidth: 7, tickColor: BLACK, lineWidth: 7, color: BLACK },
          border: { display: false }
        },
        y: { min: 0, max: 100, display: false }
      }
    },
    plugins: [makeDecor(cfg)]
  });
}

const sampleTitle = [['NiCo@W', 'b'], ['0.5', 'sub'], ['O', 'b'], ['x', 'sub'], ['/NF', 'b']];

// ─── (a) ─────────────────────────────────────────────────────────────────────
makeChart('chartNi', {
  origin: [0, 0], pad: { left: 210, top: 55, right: 95, bottom: 81 },
  range: [845, 890], ticks: niTicks, minor: niMinor, tickSize: 66, titleSize: 70,
  xTitle: [1003, 1536], yTitle: [119, 652], letter: '(a)', letterPos: [38, 113], labelSize: 50,
  series: [
    line(niBackground, OLIVE, 4, false),
    line(niSat1, OLIVE, 4, true), line(niSat2, OLIVE, 4, true), line(niSat3, OLIVE, 4, true),
    line(niSatA, OLIVE, 4, true), line(niSatB, OLIVE, 4, true), line(niSatC, OLIVE, 4, true), line(niSatD, OLIVE, 4, true),
    line(niOrange1, ORANGE, 4, true), line(niOrange2, ORANGE, 4, true),
    line(niMag1, MAGENTA, 4, true), line(niMag2, MAGENTA, 4, true),
    line(niRed1, RED, 4, true), line(niRed2, RED, 4, true),
    line(niRaw, BLACK, 3, false),
    line(niEnvelope, BLUE, 5, true)
  ],
  labels: [
    { x: 850.98, y: 95.0, parts: [['852.55 eV', 'b']] },
    { x: 847.62, y: 89.4, parts: [['Ni', 'b'], ['0', 'supB']], align: 'left' },
    { x: 861.9, y: 96.2, parts: [['856.02 eV', 'b']] },
    { x: 858.71, y: 89.4, parts: [['Ni', 'b'], ['2+', 'sup']], align: 'left' },
    { x: 861.65, y: 75.6, parts: [['858.46 eV', 'b']] },
    { x: 858.46, y: 68.6, parts: [['Ni', 'b'], ['3+', 'sup']], align: 'left' },
    { x: 864.5, y: 68.4, parts: [['Sat.', 'b']] },
    { x: 869.29, y: 76.7, parts: [['869.8 eV', 'b']] },
    { x: 866.53, y: 69.8, parts: [['Ni', 'b'], ['0', 'sup']], align: 'left' },
    { x: 873.67, y: 89.6, parts: [['873.5 eV', 'b']] },
    { x: 870.9, y: 82.7, parts: [['Ni', 'b'], ['2+', 'sup']], align: 'left' },
    { x: 880.55, y: 83.3, parts: [['874.47eV', 'b']] },
    { x: 877.45, y: 76.9, parts: [['Ni', 'b'], ['3+', 'sup']], align: 'left' },
    { x: 885.69, y: 75.6, parts: [['Sat.', 'b']] },
    { x: 870.14, y: 96.4, parts: sampleTitle, align: 'left', size: 58 },
    { x: 888.17, y: 96.4, parts: [['Ni', 'b']], size: 56 }
  ],
  arrows: [
    [850.67, 90.4, 852.22, 85.1], [858.49, 94.5, 856.2, 84.3], [859.33, 65.9, 858.63, 39.6],
    [864.16, 66.1, 862.97, 58.8], [868.56, 67.5, 869.69, 59.0], [872.77, 80.8, 873.5, 66.8],
    [877.7, 74.3, 874.94, 59.5], [884.08, 74.6, 880.64, 68.6]
  ]
});

// ─── (b) ─────────────────────────────────────────────────────────────────────
makeChart('chartCo', {
  origin: [1857, 0], pad: { left: 183, top: 45, right: 74, bottom: 82 },
  range: [765, 820], ticks: coTicks, minor: coMinor, tickSize: 66, titleSize: 60,
  xTitle: [2840, 1531], yTitle: [1994, 672], letter: '(b)', letterPos: [1875, 114], labelSize: 50,
  series: [
    line(coBackground, OLIVE, 4, true),
    line(coOlive1, OLIVE, 4, true), line(coOlive2, OLIVE, 4, true), line(coOlive3, OLIVE, 4, true), line(coOlive4, OLIVE, 4, true),
    line(coOrange1, ORANGE, 4, true), line(coOrange2, ORANGE, 4, true),
    line(coRed, RED, 4, true),
    line(coMag1, MAGENTA, 4, true), line(coMag2, MAGENTA, 4, true),
    line(coGreen, GREEN, 4, true),
    line(coRaw, BLACK, 3, false),
    line(coTailLeft, BLUE, 4, false), line(coTailRight, BLUE, 4, false),
    line(coEnvelope, BLUE, 5, true)
  ],
  labels: [
    { x: 786.33, y: 89.6, parts: [['783.03 eV', 'b']] },
    { x: 784.58, y: 82.8, parts: [['Co', 'b'], ['2+', 'sup']], align: 'left' },
    { x: 774.93, y: 75.3, parts: [['780.97 eV', 'b']] },
    { x: 773.18, y: 68.3, parts: [['Co', 'b'], ['3+', 'sup']], align: 'left' },
    { x: 771.11, y: 60.4, parts: [['777.99 eV', 'b']] },
    { x: 769.67, y: 53.7, parts: [['Co', 'b'], ['0', 'sup']], align: 'left' },
    { x: 787.26, y: 70.2, parts: [['Sat.', 'b']] },
    { x: 791.45, y: 63.4, parts: [['793.0 eV', 'b']] },
    { x: 790.04, y: 56.4, parts: [['Co', 'b'], ['0', 'sup']], align: 'left' },
    { x: 795.37, y: 77.6, parts: [['796.82 eV', 'b']] },
    { x: 793.62, y: 70.6, parts: [['Co', 'b'], ['3+', 'sup']], align: 'left' },
    { x: 804.95, y: 75.3, parts: [['798.73 eV', 'b']] },
    { x: 803.23, y: 68.3, parts: [['Co', 'b'], ['2+', 'sup']], align: 'left' },
    { x: 809.45, y: 63.6, parts: [['Sat.', 'b']] },
    { x: 797.08, y: 96.1, parts: sampleTitle, align: 'left', size: 58 },
    { x: 817.77, y: 96.3, parts: [['Co', 'b']], size: 56 }
  ],
  arrows: [
    [784.48, 80.9, 782.35, 69.6], [776.23, 65.8, 780.12, 50.2], [773.55, 53.9, 777.68, 50.3],
    [786.78, 67.5, 786.78, 58.7], [791.35, 53.9, 792.79, 48.1], [795.23, 69.2, 796.26, 53.2],
    [802.82, 66.9, 798.12, 60.8], [807.32, 63.0, 803.82, 60.3]
  ]
});

// ─── (c) ─────────────────────────────────────────────────────────────────────
makeChart('chartW', {
  origin: [0, 1571], pad: { left: 226, top: 30, right: 38, bottom: 102 },
  range: [25, 48], ticks: wTicks, minor: wMinor, tickSize: 63, titleSize: 70,
  xTitle: [1026, 3086], yTitle: [140, 2226], letter: '(c)', letterPos: [42, 1681], labelSize: 50,
  series: [
    line(wBackground, OLIVE, 4, false),
    line(wGreen, GREEN, 4, false),
    line(wOliveSmall, OLIVE, 4, true), line(wOliveBroad, OLIVE, 4, true),
    line(wRed, RED, 4, true), line(wMag, MAGENTA, 4, true),
    line(wOrange, ORANGE, 4, true), line(wPink, PINK, 4, true),
    line(wRaw, BLACK, 3, false),
    line(wEnvelope, BLUE, 5, true)
  ],
  labels: [
    { x: 33.17, y: 94.7, parts: [['35.24 eV', 'b']] },
    { x: 32.56, y: 87.9, parts: [['W', 'b'], ['6+', 'sup']], align: 'left' },
    { x: 38.58, y: 86.7, parts: [['37.32 eV', 'b']] },
    { x: 37.97, y: 79.7, parts: [['W', 'b'], ['6+', 'sup']], align: 'left' },
    { x: 32.13, y: 54.5, parts: [['33.39 eV', 'b']] },
    { x: 31.54, y: 47.6, parts: [['W', 'b'], ['4+', 'sup']], align: 'left' },
    { x: 28.98, y: 44.8, parts: [['31.30 eV', 'b']] },
    { x: 28.49, y: 37.9, parts: [['W', 'b'], ['0', 'sup']], align: 'left' },
    { x: 41.32, y: 39.4, parts: [['Sat.', 'b']] },
    { x: 38.83, y: 96.0, parts: sampleTitle, align: 'left', size: 58 },
    { x: 47.29, y: 96.4, parts: [['W', 'b']], size: 56 }
  ],
  arrows: [
    [33.98, 87.7, 35.3, 83.9], [37.83, 78.1, 37.28, 72.4], [32.53, 45.7, 33.21, 39.2],
    [29.78, 37.5, 31.1, 32.7], [40.84, 37.1, 40.12, 28.1]
  ]
});

// ─── (d) ─────────────────────────────────────────────────────────────────────
makeChart('chartO', {
  origin: [1857, 1571], pad: { left: 201, top: 38, right: 74, bottom: 107 },
  range: [520, 550], ticks: oTicks, minor: oMinor, tickSize: 64, titleSize: 70,
  xTitle: [2851, 3081], yTitle: [1990, 2200], letter: '(d)', letterPos: [1875, 1669], labelSize: 69,
  series: [
    line(oOrange, ORANGE, 4, true), line(oMag, MAGENTA, 4, true), line(oRed, RED, 4, true),
    line(oRaw, BLACK, 3, false),
    line(oEnvelope, BLUE, 5, true)
  ],
  labels: [
    { x: 526.33, y: 87.9, parts: [['530.47 eV', 'b']] },
    { x: 536.29, y: 51.6, parts: [['531.63 eV', 'b']] },
    { x: 537.29, y: 41.8, parts: [['532.4 eV', 'b']] },
    { x: 536.8, y: 96.2, parts: sampleTitle, align: 'left', size: 58 },
    { x: 549.09, y: 96.6, parts: [['O', 'b']], size: 58 }
  ],
  arrows: [
    [528.62, 84.0, 530.38, 79.7], [533.09, 47.7, 531.8, 41.6], [534.62, 39.0, 532.86, 30.8]
  ]
});
</script>
</body>
</html>
